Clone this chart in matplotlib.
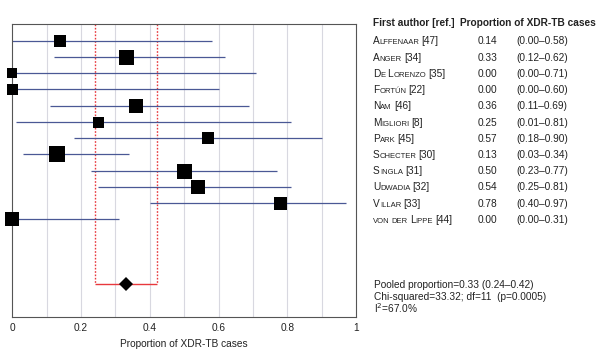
import numpy as np
import matplotlib.pyplot as plt

plt.rcParams['font.family'] = ['Liberation Sans', 'DejaVu Sans']

authors = ["Alffenaar", "Anger", "De Lorenzo", "Fortún", "Nam", "Migliori",
           "Park", "Schecter", "Singla", "Udwadia", "Villar", "von der Lippe"]
refs = [47, 34, 35, 22, 46, 8, 45, 30, 31, 32, 33, 44]
prop = [0.14, 0.33, 0.00, 0.00, 0.36, 0.25, 0.57, 0.13, 0.50, 0.54, 0.78, 0.00]
lo = [0.00, 0.12, 0.00, 0.00, 0.11, 0.01, 0.18, 0.03, 0.23, 0.25, 0.40, 0.00]
hi = [0.58, 0.62, 0.71, 0.60, 0.69, 0.81, 0.90, 0.34, 0.77, 0.81, 0.97, 0.31]
weights = [12, 15, 10, 11, 14, 11, 12, 16.5, 15, 14, 13, 14]  # relative box size
pooled, pooled_lo, pooled_hi = 0.33, 0.24, 0.42
chi2, df, pval, i2 = 33.32, 11, 0.0005, 67.0

W, H = 603, 357
fig = plt.figure(figsize=(W / 100, H / 100), dpi=100)
ax = fig.add_axes([12.3 / W, 1 - 316.7 / H, (356 - 12.3) / W, (316.7 - 24.3) / H])

n = len(prop)
rows = np.arange(1, n + 1)
pooled_row = n + 4

for x in np.arange(0.1, 1.0, 0.1):
    ax.axvline(x, color='#d8d8e0', lw=0.8, zorder=0)

ax.hlines(rows, lo, hi, color='#4a5895', lw=0.9, zorder=2)
for r, p, w in zip(rows, prop, weights):
    ax.plot(p, r, 's', color='black', ms=w * 0.72, mew=0, zorder=3, clip_on=False)

red = '#e8383d'
ax.vlines([pooled_lo, pooled_hi], 0, pooled_row, color=red, lw=1.0, ls=(0, (1.2, 1.2)), zorder=1)
ax.hlines(pooled_row, pooled_lo, pooled_hi, color=red, lw=1.0, zorder=1)
ax.plot(pooled, pooled_row, 'D', color='black', ms=7.5, mew=0, zorder=4)

fs = 7.3
tc = '#222222'
ax.set_xlim(0, 1)
ax.set_ylim(n + 6, 0)
ax.set_yticks([])
ax.set_xticks(np.arange(0, 1.01, 0.2))
ax.set_xticklabels(['0', '0.2', '0.4', '0.6', '0.8', '1'], fontsize=fs, color=tc)
ax.tick_params(axis='x', length=0, pad=4.5)
ax.set_xlabel('Proportion of XDR-TB cases', fontsize=fs, labelpad=4, color=tc)
for s in ax.spines.values():
    s.set_color('#555555')
    s.set_linewidth(0.8)

# right-hand table
renderer = fig.canvas.get_renderer()
big, small = fs, 5.5


def small_caps(x0, y0, s):
    x = x0
    runs = []
    for ch in s:
        if ch == ' ':
            runs.append((' ', small))
        elif ch.isupper():
            runs.append((ch, big))
        else:
            runs.append((ch.upper(), small))
    merged = []
    for ch, sz in runs:
        if merged and merged[-1][1] == sz and ch != ' ' and merged[-1][0][-1] != ' ':
            merged[-1] = (merged[-1][0] + ch, sz)
        else:
            merged.append((ch, sz))
    for txt, sz in merged:
        if txt == ' ':
            x += 0.278 * sz * 100 / 72
            continue
        t = fig.text(x / W, 1 - y0 / H, txt, fontsize=sz, va='baseline', ha='left', color=tc)
        x += t.get_window_extent(renderer).width
    return x


fig.text(373 / W, 1 - 25.8 / H, 'First author [ref.]', fontsize=fs,
         fontweight='bold', va='baseline', color=tc)
fig.text(460.5 / W, 1 - 25.8 / H, 'Proportion of XDR-TB cases', fontsize=fs,
         fontweight='bold', va='baseline', color=tc)

ytop = 41.7
step = (220 - 41.7) / 11
for i, (a, r, p, l, h) in enumerate(zip(authors, refs, prop, lo, hi)):
    yb = ytop + i * step + 2.8
    x = small_caps(373, yb, a)
    fig.text((x + 2) / W, 1 - yb / H, f'[{r}]', fontsize=big, va='baseline', color=tc)
    fig.text(478 / W, 1 - yb / H, f'{p:.2f}', fontsize=big, va='baseline', color=tc)
    fig.text(516 / W, 1 - yb / H, f'({l:.2f}\u2013{h:.2f})', fontsize=big,
             va='baseline', color=tc)

fig.text(374 / W, 1 - 288 / H,
         f'Pooled proportion={pooled:.2f} ({pooled_lo:.2f}\u2013{pooled_hi:.2f})',
         fontsize=fs, va='baseline', color=tc)
fig.text(374 / W, 1 - 300.5 / H, f'Chi-squared={chi2:.2f}; df={df}  (p={pval})',
         fontsize=fs, va='baseline', color=tc)
fig.text(374 / W, 1 - 313 / H, f'I$^2$={i2:.1f}%', fontsize=fs, va='baseline', color=tc)

fig.savefig('out.png', dpi=100)
